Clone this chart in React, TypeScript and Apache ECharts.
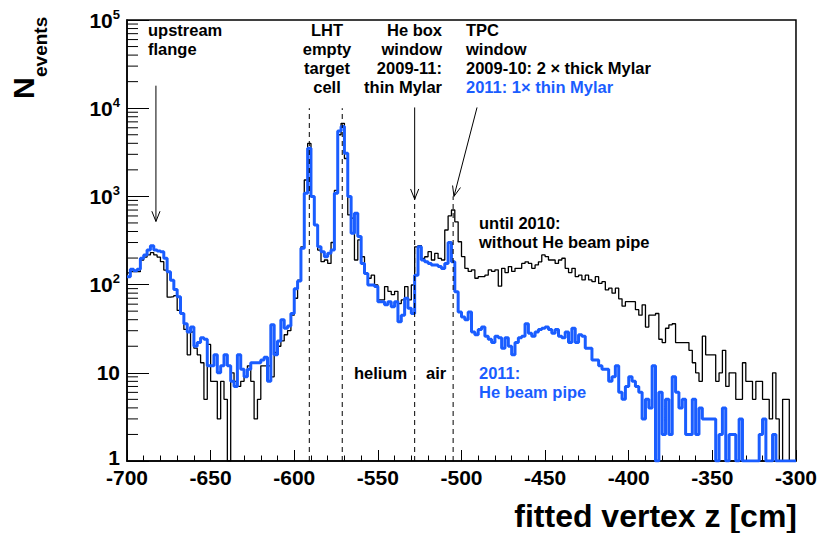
import React, { useEffect, useRef } from 'react';
import * as echarts from 'echarts';

// ---------------- data ----------------
const X_MIN = -700;
const X_MAX = -300;
const BIN_WIDTH = 2; // cm per bin, 200 bins
const X_TICK_INTERVAL = 50;
const Y_MIN = 1;
const Y_MAX = 100000;

// until 2010: without He beam pipe (black)
const BLACK_COUNTS = [
  136, 140, 140, 140, 190, 205, 217, 230, 217, 205,
  182, 146, 72, 73, 75, 51, 47, 31, 16, 29,
  19, 16, 13, 5, 21, 8, 8, 3, 8, 5,
  1, 10, 8, 7, 8, 9, 12, 8, 3, 5,
  12, 12, 12, 9, 17, 20, 23, 27, 30, 45,
  70, 112, 268, 1535, 3990, 1000, 470, 246, 182, 190,
  174, 300, 1170, 5000, 6740, 2690, 617, 567, 190, 321,
  207, 134, 118, 128, 99, 67, 67, 95, 84, 77,
  84, 61, 67, 95, 67, 99, 268, 277, 198, 207,
  236, 190, 226, 198, 190, 416, 600, 701, 515, 306,
  208, 153, 141, 147, 118, 123, 123, 128, 147, 141,
  147, 96, 153, 137, 160, 141, 153, 153, 174, 181,
  174, 153, 167, 181, 217, 208, 190, 190, 174, 190,
  199, 153, 137, 153, 123, 128, 113, 128, 113, 108,
  123, 103, 108, 87, 91, 80, 91, 69, 57, 64,
  64, 64, 52, 45, 59, 33, 45, 45, 47, 24,
  22, 32, 35, 36, 22, 22, 22, 22, 18, 13,
  10, 8, 26, 16, 16, 16, 8, 10, 18, 7,
  10, 10, 5, 5, 13, 8, 8, 5, 8, 8,
  5, 5, 3, 10, 3, 1, 5, 5, 1, 1,
];

// 2011: He beam pipe (blue)
const BLUE_COUNTS = [
  123, 149, 144, 149, 199, 217, 246, 276, 246, 240,
  235, 199, 140, 112, 88, 73, 47, 36, 29, 33,
  20, 22, 25, 24, 12, 12, 16, 10, 12, 16,
  12, 8, 7, 16, 11, 9, 11, 13, 13, 13,
  14, 15, 8, 35, 16, 23, 40, 32, 34, 47,
  90, 110, 258, 1083, 3510, 1000, 474, 268, 236, 207,
  226, 246, 1083, 5500, 6200, 3080, 1000, 381, 643, 350,
  174, 134, 99, 99, 95, 64, 64, 59, 64, 56,
  64, 38, 45, 70, 54, 47, 128, 268, 190, 182,
  174, 167, 167, 160, 152, 174, 300, 181, 83, 49,
  43, 40, 49, 29, 27, 31, 33, 26, 24, 22,
  26, 25, 19, 25, 20, 16, 22, 25, 26, 36,
  28, 26, 29, 31, 32, 33, 31, 28, 31, 26,
  25, 29, 22, 32, 22, 27, 26, 19, 19, 14,
  14, 12, 11, 11, 8, 9, 12, 6, 5, 7,
  9, 8, 7, 6, 3, 5, 4, 12, 1, 6,
  2, 5, 2, 9, 6, 4, 5, 2, 2, 5,
  2, 4, 3, 3, 3, 3, 1, 2, 4, 1,
  2, 2, 1, 3, 1, 1, 1, 1, 1, 2,
  3, 1, 1, 2, 1, 1, 1, 1, 1, 1,
];

// dashed markers / arrows: [x1, y1, x2, y2, kind]  kind 0 = dashed, 1 = arrow
const MARKER_LINES = [
  [-591, 1, -591, 10000, 0],
  [-571.3, 1, -571.3, 10000, 0],
  [-528, 1, -528, 1000, 0],
  [-505, 1, -505, 1000, 0],
  [-682.7, 18000, -682.7, 520, 1],
  [-528, 10200, -528, 930, 1],
  [-490.7, 10200, -504.5, 1000, 1],
];

const Y_MINOR_MULTIPLIERS = [2, 3, 4, 5, 6, 7, 8, 9];
const Y_DECADES = [1, 10, 100, 1000, 10000];

// ---------------- styling ----------------
const BLACK = '#000000';
const BLUE = '#1a5dff';
const FONT = 'Liberation Sans';

function stepData(counts: number[]) {
  const pts = counts.map((c, i) => [X_MIN + i * BIN_WIDTH, c]);
  pts.push([X_MIN + counts.length * BIN_WIDTH, counts[counts.length - 1]]);
  return pts;
}

function txt(text: string, x: number, y: number, opts: any = {}) {
  const align = opts.align || 'left';
  const va = opts.va || 'top';
  return {
    type: 'text',
    x,
    y,
    rotation: opts.rotation || 0,
    silent: true,
    style: {
      text,
      fill: opts.color || BLACK,
      fontSize: opts.size || 16.5,
      fontWeight: 'bold',
      fontFamily: FONT,
      lineHeight: opts.lineHeight || 19.2,
      align,
      verticalAlign: va,
      textAlign: align,
      textVerticalAlign: va,
    },
  };
}

export default function App() {
  const ref = useRef<HTMLDivElement>(null);

  useEffect(() => {
    if (!ref.current) return;
    const chart = echarts.init(ref.current, null, { renderer: 'svg' });

    const minorTicks: number[][] = [];
    Y_DECADES.forEach((d) => Y_MINOR_MULTIPLIERS.forEach((m) => minorTicks.push([X_MIN, d * m])));

    const option: any = {
      animation: false,
      backgroundColor: '#ffffff',
      grid: {
        left: 127,
        right: 23,
        top: 20,
        bottom: 72,
        show: true,
        borderColor: BLACK,
        borderWidth: 1.5,
        backgroundColor: 'transparent',
      },
      xAxis: {
        type: 'value',
        min: X_MIN,
        max: X_MAX,
        interval: X_TICK_INTERVAL,
        axisLine: { show: true, onZero: false, lineStyle: { color: BLACK, width: 1.5 } },
        axisTick: { show: true, inside: true, length: 11, lineStyle: { color: BLACK, width: 1 } },
        minorTick: { show: true, splitNumber: 5, length: 5.5, lineStyle: { color: BLACK, width: 1 } },
        splitLine: { show: false },
        minorSplitLine: { show: false },
        axisLabel: {
          show: true,
          margin: 6,
          color: BLACK,
          fontSize: 21,
          fontWeight: 'bold',
          fontFamily: FONT,
          showMinLabel: true,
          showMaxLabel: true,
        },
      },
      yAxis: {
        type: 'log',
        logBase: 10,
        min: Y_MIN,
        max: Y_MAX,
        splitNumber: 5,
        axisLine: { show: true, onZero: false, lineStyle: { color: BLACK, width: 1.5 } },
        axisTick: { show: true, inside: true, length: 22, lineStyle: { color: BLACK, width: 1 } },
        splitLine: { show: false },
        axisLabel: {
          show: true,
          margin: 7,
          color: BLACK,
          formatter: (v: number) => {
            const e = Math.round(Math.log10(v));
            if (e === 0) return '{c|1}';
            if (e === 1) return '{a|10}';
            return '{a|10}{b|' + e + '}';
          },
          rich: {
            a: { fontSize: 21, fontWeight: 'bold', fontFamily: FONT, color: BLACK, lineHeight: 25 },
            b: { fontSize: 13, fontWeight: 'bold', fontFamily: FONT, color: BLACK, lineHeight: 13, verticalAlign: 'top' },
            c: { fontSize: 21, fontWeight: 'bold', fontFamily: FONT, color: BLACK, lineHeight: 21, padding: [0, 0, 8, 0] },
          },
        },
      },
      series: [
        {
          type: 'line',
          name: 'until 2010',
          data: stepData(BLACK_COUNTS),
          step: 'end',
          showSymbol: false,
          symbol: 'none',
          silent: true,
          z: 2,
          lineStyle: { color: BLACK, width: 1.3 },
        },
        {
          type: 'line',
          name: '2011',
          data: stepData(BLUE_COUNTS),
          step: 'end',
          showSymbol: false,
          symbol: 'none',
          silent: true,
          z: 3,
          lineStyle: { color: BLUE, width: 3 },
        },
        {
          type: 'custom',
          name: 'minorTicks',
          coordinateSystem: 'cartesian2d',
          silent: true,
          clip: false,
          z: 5,
          data: minorTicks,
          encode: { x: 0, y: 1 },
          renderItem: (params: any, api: any) => {
            const p = api.coord([X_MIN, api.value(1)]);
            return {
              type: 'line',
              shape: { x1: p[0], y1: p[1], x2: p[0] + 11, y2: p[1] },
              style: { stroke: BLACK, lineWidth: 1 },
            };
          },
        },
        {
          type: 'custom',
          name: 'markers',
          coordinateSystem: 'cartesian2d',
          silent: true,
          clip: false,
          z: 4,
          data: MARKER_LINES,
          encode: { x: [0, 2], y: [1, 3] },
          renderItem: (params: any, api: any) => {
            const a = api.coord([api.value(0), api.value(1)]);
            const b = api.coord([api.value(2), api.value(3)]);
            const kind = api.value(4);
            const lineStyle: any = { stroke: BLACK, lineWidth: 1 };
            if (kind === 0) lineStyle.lineDash = [5, 4];
            const children: any[] = [
              { type: 'line', shape: { x1: a[0], y1: a[1], x2: b[0], y2: b[1] }, style: lineStyle },
            ];
            if (kind === 1) {
              const ang = Math.atan2(b[1] - a[1], b[0] - a[0]);
              const L = 11;
              const w = 0.38;
              const p1 = [b[0] - L * Math.cos(ang - w), b[1] - L * Math.sin(ang - w)];
              const p2 = [b[0] - L * Math.cos(ang + w), b[1] - L * Math.sin(ang + w)];
              children.push({
                type: 'polyline',
                shape: { points: [p1, [b[0], b[1]], p2] },
                style: { stroke: BLACK, lineWidth: 1, fill: null },
              });
            }
            return { type: 'group', children };
          },
        },
      ],
      graphic: {
        elements: [
          // axis titles
          txt('fitted vertex z [cm]', 797, 516, { align: 'right', va: 'middle', size: 32, lineHeight: 36 }),
          txt('N', 23, 99, { rotation: Math.PI / 2, va: 'middle', size: 30, lineHeight: 32 }),
          txt('events', 40, 77, { rotation: Math.PI / 2, va: 'middle', size: 19, lineHeight: 21 }),
          // annotations
          txt('upstream\nflange', 148, 20, {}),
          txt('LHT\nempty\ntarget\ncell', 327, 20, { align: 'center' }),
          txt('He box\nwindow\n2009-11:\nthin Mylar', 442, 20, { align: 'right' }),
          txt('TPC\nwindow\n2009-10: 2 \u00d7 thick Mylar', 466, 20, {}),
          txt('2011: 1\u00d7 thin Mylar', 466, 77.6, { color: BLUE }),
          txt('until 2010:\nwithout He beam pipe', 479, 213.5, {}),
          txt('2011:\nHe beam pipe', 479, 363.5, { color: BLUE }),
          txt('helium', 354, 363.5, {}),
          txt('air', 426, 363.5, {}),
        ],
      },
    };

    chart.setOption(option);
    return () => {
      chart.dispose();
    };
  }, []);

  return (
    <div
      ref={ref}
      style={{ position: 'absolute', left: 0, top: 0, width: 820, height: 533, background: '#fff' }}
    />
  );
}
